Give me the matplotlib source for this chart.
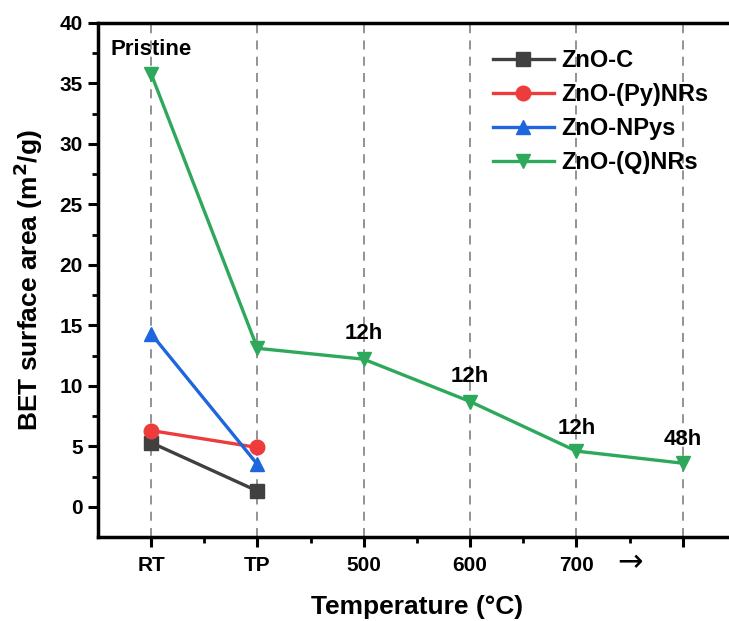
import matplotlib
matplotlib.use("Agg")
import matplotlib.pyplot as plt
from matplotlib.transforms import blended_transform_factory

plt.rcParams['font.family'] = ['Liberation Sans', 'DejaVu Sans']
plt.rcParams['font.weight'] = 'bold'

categories = ["RT", "TP", "500", "600", "700", ""]
x_pos = [1, 2, 3, 4, 5, 6]

znoc = [5.3, 1.3]
znopy = [6.3, 4.9]
znonpys = [14.3, 3.5]
znoq = [35.8, 13.1, 12.2, 8.7, 4.6, 3.6]

annotations = ["Pristine", "12h", "12h", "12h", "48h"]
ann_x = [1, 3, 4, 5, 6]
ann_y = [37.8, 14.3, 10.8, 6.5, 5.6]

fig = plt.figure(figsize=(7.29, 6.21), dpi=100)
ax = fig.add_axes([0.1344, 0.1353, 0.875, 0.8277])

for xv in x_pos:
    ax.axvline(xv, color='#8a8a8a', linestyle=(0, (5, 4)), linewidth=1.3, zorder=0)

lw = 2.4
ms = 10.5
ax.plot(x_pos[:2], znoc, color='#404040', marker='s', markersize=ms - 1, linewidth=lw, label='ZnO-C')
ax.plot(x_pos[:2], znopy, color='#EE3B3B', marker='o', markersize=ms, linewidth=lw, label='ZnO-(Py)NRs')
ax.plot(x_pos[:2], znonpys, color='#1F66DE', marker='^', markersize=ms, linewidth=lw, label='ZnO-NPys')
ax.plot(x_pos, znoq, color='#2EA85A', marker='v', markersize=ms, linewidth=lw, label='ZnO-(Q)NRs')

for t, xv, yv in zip(annotations, ann_x, ann_y):
    ax.text(xv, yv, t, ha='center', va='center', fontsize=16, fontweight='bold')

ax.set_xlim(0.5, 6.5)
ax.set_ylim(-2.5, 40)
ax.set_xticks(x_pos)
ax.set_xticklabels(categories, fontsize=15, fontweight='bold')
ax.set_xticks([1.5, 2.5, 3.5, 4.5, 5.5], minor=True)
ax.set_yticks([0, 5, 10, 15, 20, 25, 30, 35, 40])
ax.set_yticks([2.5, 7.5, 12.5, 17.5, 22.5, 27.5, 32.5, 37.5], minor=True)
for lab in ax.get_yticklabels():
    lab.set_fontsize(15)
    lab.set_fontweight('bold')

trans = blended_transform_factory(ax.transData, ax.transAxes)
ax.text(5.5, -0.05, "→", transform=trans, ha='center', va='center', fontsize=22,
        fontweight='normal', family=['DejaVu Sans'])

for s in ax.spines.values():
    s.set_linewidth(2.5)
ax.tick_params(axis='both', which='major', direction='out', length=7, width=2.2)
ax.tick_params(axis='x', which='major', pad=7)
ax.tick_params(axis='y', which='major', pad=4)
ax.tick_params(axis='both', which='minor', direction='out', length=4, width=2.0)
ax.tick_params(axis='y', which='major', right=True, labelright=False)

ax.set_xlabel("Temperature (°C)", fontsize=19, fontweight='bold', labelpad=14)
ax.set_ylabel("BET surface area (m$^\\mathbf{2}$/g)", fontsize=19, fontweight='bold', labelpad=10)

leg = ax.legend(loc='upper left', bbox_to_anchor=(0.604, 0.968), frameon=False, fontsize=17,
                handlelength=2.6, handletextpad=0.3, labelspacing=0.47, borderaxespad=0)
for t in leg.get_texts():
    t.set_fontweight('bold')

fig.savefig("out.png", dpi=100)
